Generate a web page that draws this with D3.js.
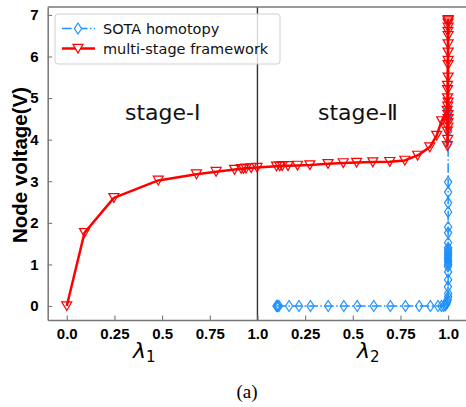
<!DOCTYPE html>
<html><head><meta charset="utf-8">
<script src="https://cdn.jsdelivr.net/npm/d3@7"></script>
<style>body{margin:0;background:#fff}svg{display:block}</style>
</head><body><div id="chart"></div>
<script>
// ---- data ----
const xTickValues = [0, 0.25, 0.5, 0.75, 1, 1.25, 1.5, 1.75, 2];
const xTickLabels = ["0.0", "0.25", "0.5", "0.75", "1.0", "0.25", "0.5", "0.75", "1.0"];
const yTickValues = [0, 1, 2, 3, 4, 5, 6, 7];

// multi-stage framework, stage I (lambda1) and stage II (lambda2)
const redStage1Lambda = [0, 0.093, 0.247, 0.48, 0.68, 0.783, 0.88, 0.915, 0.927, 0.94, 0.967, 0.998];
const redStage1V      = [0, 1.76, 2.6, 3.02, 3.17, 3.23, 3.28, 3.3, 3.3, 3.31, 3.32, 3.33];
const redStage2Lambda = [0.1, 0.117, 0.13, 0.16, 0.21, 0.275, 0.37, 0.45, 0.52, 0.605, 0.694, 0.773, 0.84, 0.904, 0.94, 0.966,
  0.995, 0.997, 0.999, 1.0, 0.996, 1.0, 0.998, 1.0, 0.997, 1.0, 0.999, 1.0, 0.996, 1.0, 0.998, 1.0, 0.999, 1.0, 0.997, 1.0, 1.0, 0.999, 1.0, 1.0];
const redStage2V      = [3.36, 3.36, 3.37, 3.37, 3.38, 3.39, 3.42, 3.44, 3.45, 3.46, 3.47, 3.5, 3.62, 3.82, 4.1, 4.45,
  4.7, 5.2, 4.6, 5.8, 4.2, 6.3, 4.0, 6.88, 5.0, 6.5, 4.4, 6.7, 3.85, 5.5, 4.8, 6.1, 4.3, 6.85, 5.3, 4.5, 5.9, 6.6, 4.9, 6.8];

// SOTA homotopy (lambda2 only)
const blueLambda2 = [0.1, 0.103, 0.106, 0.113, 0.166, 0.218, 0.278, 0.371, 0.453, 0.523, 0.61, 0.697, 0.776, 0.848, 0.907, 0.947, 0.965, 0.977, 0.985, 0.991, 0.995, 0.998, 1.0,
  1.0, 0.999, 1.0, 1.0, 0.999, 1.0, 1.0, 1.0, 0.999, 1.0, 1.0, 1.0, 1.0, 1.0, 1.0, 1.0, 1.0, 1.0, 1.0, 1.0, 1.0, 1.0, 1.0, 1.0, 1.0, 1.0, 1.0];
const blueV       = [0, 0, 0, 0, 0, 0, 0, 0, 0, 0, 0, 0, 0, 0, 0, 0, 0, 0, 0.02, 0.05, 0.1, 0.15, 0.22,
  0.3, 0.46, 0.63, 0.82, 0.95, 1.0, 1.05, 1.1, 1.15, 1.2, 1.25, 1.3, 1.35, 1.4, 1.52, 1.76, 1.9, 2.26, 2.48, 2.74, 2.98, 3.9, 4.2, 4.5, 4.6, 4.7, 4.75];

const legendLabels = ["SOTA homotopy", "multi-stage framework"];
const stageLabels = ["stage-I", "stage-Ⅱ"];

// ---- layout ----
const W = 466, H = 407;
const x = d3.scaleLinear().domain([-0.1, 2.1]).range([47.7, 467.2]);
const y = d3.scaleLinear().domain([-0.337, 7.19]).range([320, 7]);
const RED = "#ff0000", BLUE = "#1e90ff";

const svg = d3.select("#chart").append("svg").attr("width", W).attr("height", H);

const redPts = redStage1Lambda.map((l, i) => [l, redStage1V[i]])
  .concat(redStage2Lambda.map((l, i) => [1 + l, redStage2V[i]]));
const bluePts = blueLambda2.map((l, i) => [1 + l, blueV[i]]);

const plot = svg.append("g");
plot.append("clipPath").attr("id", "clip").append("rect")
  .attr("x", 0).attr("y", 0).attr("width", W).attr("height", H);

// divider
plot.append("line").attr("x1", x(1)).attr("x2", x(1)).attr("y1", y.range()[1]).attr("y2", y.range()[0])
  .attr("stroke", "#333").attr("stroke-width", 1.4);

const line = d3.line().x(d => x(d[0])).y(d => y(d[1]));

// blue series
plot.append("path").datum(bluePts).attr("d", line).attr("fill", "none")
  .attr("stroke", BLUE).attr("stroke-width", 1.5).attr("stroke-dasharray", "9.6,2.4,1.5,2.4");
const diamond = (cx, cy) => `M${cx},${cy-5.5}L${cx+3.6},${cy}L${cx},${cy+5.5}L${cx-3.6},${cy}Z`;
plot.append("g").selectAll("path").data(bluePts).join("path")
  .attr("d", d => diamond(x(d[0]), y(d[1])))
  .attr("fill", "none").attr("stroke", BLUE).attr("stroke-width", 1.2);

// red series
plot.append("path").datum(redPts).attr("d", line).attr("fill", "none")
  .attr("stroke", RED).attr("stroke-width", 2.5).attr("stroke-linejoin", "round");
const tri = (cx, cy) => `M${cx-5},${cy-4.2}L${cx+5},${cy-4.2}L${cx},${cy+4.6}Z`;
plot.append("g").selectAll("path").data(redPts).join("path")
  .attr("d", d => tri(x(d[0]), y(d[1])))
  .attr("fill", "none").attr("stroke", RED).attr("stroke-width", 1.2);

// axes
const xAxis = d3.axisBottom(x).tickValues(xTickValues).tickFormat((d, i) => xTickLabels[i])
  .tickSizeInner(-4.5).tickSizeOuter(0).tickPadding(8);
const gx = svg.append("g").attr("transform", `translate(0,${y.range()[0]})`).call(xAxis);
const yAxis = d3.axisLeft(y).tickValues(yTickValues).tickFormat(d3.format("d"))
  .tickSizeInner(-4.5).tickSizeOuter(0).tickPadding(9);
const gy = svg.append("g").attr("transform", `translate(${x.range()[0]},0)`).call(yAxis);
[gx, gy].forEach(g => {
  g.select(".domain").attr("stroke", "#777").attr("stroke-width", 1.5);
  g.selectAll(".tick line").attr("stroke", "#777").attr("stroke-width", 1.1);
  g.selectAll(".tick text").attr("font-family", "Liberation Sans, Arial, sans-serif")
    .attr("font-weight", "bold").attr("font-size", 15).attr("fill", "#000");
});
// top spine
svg.append("line").attr("x1", x.range()[0]).attr("x2", W).attr("y1", y.range()[1]).attr("y2", y.range()[1])
  .attr("stroke", "#777").attr("stroke-width", 1.5);

// y label
svg.append("text").attr("transform", `translate(27,165) rotate(-90)`)
  .attr("text-anchor", "middle").attr("font-family", "Liberation Sans, Arial, sans-serif")
  .attr("font-weight", "bold").attr("font-size", 20.5).text("Node voltage(V)");

// x labels (lambda with subscripts)
[["1", 133], ["2", 357]].forEach(([s, px]) => {
  const t = svg.append("text").attr("x", px).attr("y", 358)
    .attr("font-family", "DejaVu Sans, sans-serif").attr("font-size", 22);
  t.append("tspan").attr("font-style", "italic").text("λ");
  t.append("tspan").attr("font-size", 15).attr("dy", 4).text(s);
});

// stage labels
svg.append("text").attr("x", 125).attr("y", 120).attr("font-family", "DejaVu Sans, sans-serif")
  .attr("font-size", 22).attr("fill", "#111").text(stageLabels[0]);
svg.append("text").attr("x", 318).attr("y", 120).attr("font-family", "DejaVu Sans, sans-serif")
  .attr("font-size", 22).attr("fill", "#111").text(stageLabels[1]);

// legend
const lg = svg.append("g");
lg.append("rect").attr("x", 55).attr("y", 14).attr("width", 225).attr("height", 50).attr("rx", 3)
  .attr("fill", "#fff").attr("fill-opacity", 0.8).attr("stroke", "#d0d0d0").attr("stroke-width", 1);
lg.append("line").attr("x1", 62).attr("x2", 95).attr("y1", 28.5).attr("y2", 28.5)
  .attr("stroke", BLUE).attr("stroke-width", 1.5).attr("stroke-dasharray", "9.6,2.4,1.5,2.4");
lg.append("path").attr("d", diamond(78, 28.5)).attr("fill", "#fff").attr("stroke", BLUE).attr("stroke-width", 1.2);
lg.append("line").attr("x1", 62).attr("x2", 95).attr("y1", 48.5).attr("y2", 48.5)
  .attr("stroke", RED).attr("stroke-width", 2.5);
lg.append("path").attr("d", tri(78, 48.5)).attr("fill", "#fff").attr("stroke", RED).attr("stroke-width", 1.2);
legendLabels.forEach((t, i) => {
  lg.append("text").attr("x", 103).attr("y", 34 + i * 19.5).attr("font-family", "DejaVu Sans, sans-serif")
    .attr("font-size", 14.5).attr("fill", "#111").text(t);
});

// caption
svg.append("text").attr("x", 247).attr("y", 398).attr("text-anchor", "middle")
  .attr("font-family", "Liberation Serif, Times New Roman, serif").attr("font-size", 19).text("(a)");
</script></body></html>
